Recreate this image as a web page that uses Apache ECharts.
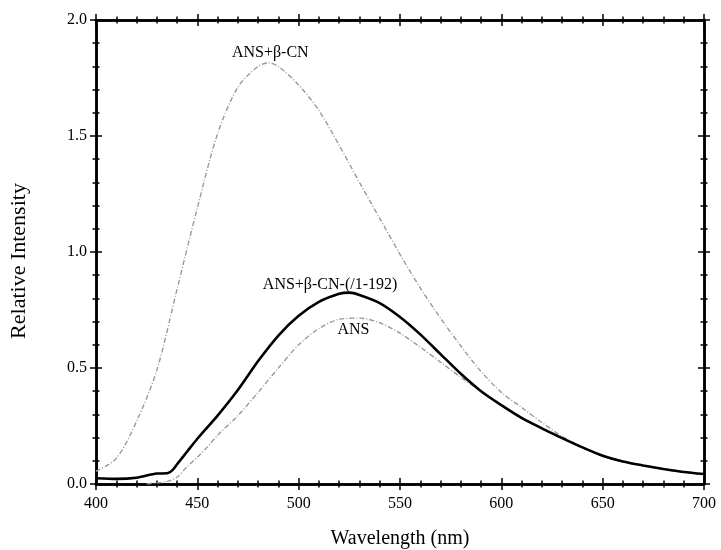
<!DOCTYPE html>
<html>
<head>
<meta charset="utf-8">
<script src="https://cdn.jsdelivr.net/npm/echarts@6/dist/echarts.min.js"></script>
<style>html,body{margin:0;padding:0;background:#fff}#c{width:721px;height:550px}</style>
</head>
<body>
<div id="c"></div>
<script>
// ---- data ----
const wlComplex = [400,410,420,430,435,438,440,445,450,460,470,480,490,500,510,520,525,530,540,550,560,570,580,590,600,610,620,630,640,650,660,670,680,690,700];
const relComplex = [0.025,0.022,0.027,0.045,0.046,0.062,0.085,0.14,0.195,0.295,0.405,0.53,0.64,0.725,0.785,0.82,0.825,0.815,0.78,0.72,0.645,0.56,0.475,0.40,0.34,0.285,0.24,0.198,0.158,0.122,0.097,0.08,0.065,0.052,0.043];

const wlBetaCN = [400,410,420,430,440,450,460,470,480,485,490,500,510,520,530,540,550,560,570,580,590,600,610,620,630,640,650,660,670,680,690,700];
const relBetaCN = [0.055,0.11,0.27,0.49,0.84,1.19,1.51,1.71,1.80,1.815,1.80,1.72,1.61,1.46,1.30,1.145,0.99,0.845,0.715,0.595,0.485,0.395,0.33,0.265,0.205,0.16,0.124,0.098,0.08,0.065,0.052,0.043];

const wlANS = [425,430,435,440,445,450,455,460,470,480,490,500,510,520,530,540,550,560,570,580,590,600,610,620,630,640,650,660,670,680,690,700];
const relANS = [0.0,0.005,0.01,0.03,0.075,0.115,0.16,0.21,0.295,0.395,0.50,0.60,0.67,0.71,0.715,0.695,0.65,0.59,0.525,0.46,0.40,0.338,0.283,0.238,0.196,0.156,0.12,0.095,0.078,0.063,0.05,0.041];

const labelText = ['ANS+β-CN','ANS+β-CN-(/1-192)','ANS'];
const labelX = [486,515.5,527];
const labelY = [1.86,0.858,0.664];

const xTicks = {min:400, max:700, interval:50};
const yTicks = {min:0, max:2, interval:0.5};
// ---------------

const FONT = 'Liberation Serif';
function zip(a,b){return a.map((v,i)=>[v,b[i]]);}

function mkX(pos, inside, labels){
  return {
    type:'value', position:pos, min:xTicks.min, max:xTicks.max, interval:xTicks.interval,
    axisLine:{show:true,onZero:false,lineStyle:{color:'#000',width:2.5}},
    axisTick:{show:true,inside:inside,length:6,lineStyle:{color:'#000',width:1.5}},
    minorTick:{show:true,splitNumber:5,length:3.5,lineStyle:{color:'#000',width:1.5}},
    splitLine:{show:false}, minorSplitLine:{show:false},
    axisLabel:{show:labels,color:'#000',fontFamily:FONT,fontSize:16,margin:12},
    name: labels ? 'Wavelength (nm)' : '', nameLocation:'middle', nameGap:45,
    nameTextStyle:{color:'#000',fontFamily:FONT,fontSize:20}
  };
}
function mkY(pos, inside, labels){
  return {
    type:'value', position:pos, min:yTicks.min, max:yTicks.max, interval:yTicks.interval,
    axisLine:{show:true,onZero:false,lineStyle:{color:'#000',width:2.5}},
    axisTick:{show:true,inside:inside,length:6,lineStyle:{color:'#000',width:1.5}},
    minorTick:{show:true,splitNumber:5,length:3.5,lineStyle:{color:'#000',width:1.5}},
    splitLine:{show:false}, minorSplitLine:{show:false},
    axisLabel:{show:labels,color:'#000',fontFamily:FONT,fontSize:16,margin:9,formatter:v=>v.toFixed(1)},
    name: labels ? 'Relative Intensity' : '', nameLocation:'middle', nameGap:66,
    nameTextStyle:{color:'#000',fontFamily:FONT,fontSize:22,padding:[0,18,0,0]}
  };
}

const chart = echarts.init(document.getElementById('c'), null, {renderer:'canvas'});
chart.setOption({
  animation:false,
  backgroundColor:'#fff',
  grid:{left:96,right:17,top:20,bottom:66,containLabel:false,outerBoundsMode:'none'},
  xAxis:[mkX('bottom',false,true),mkX('bottom',true,false),mkX('top',false,false),mkX('top',true,false)],
  yAxis:[mkY('left',false,true),mkY('left',true,false),mkY('right',false,false),mkY('right',true,false)],
  series:[
    {type:'line',name:'ANS+β-CN',data:zip(wlBetaCN,relBetaCN),showSymbol:false,smooth:0.3,
     lineStyle:{color:'#9a9a9a',width:1.4,type:[5,2,1,2]},z:2},
    {type:'line',name:'ANS',data:zip(wlANS,relANS),showSymbol:false,smooth:0.3,
     lineStyle:{color:'#9a9a9a',width:1.4,type:[5,2,1,2]},z:2},
    {type:'line',name:'ANS+β-CN-(/1-192)',data:zip(wlComplex,relComplex),showSymbol:false,smooth:0.25,
     lineStyle:{color:'#000',width:2.6},z:3},
    {type:'scatter',data:labelX.map((x,i)=>[x,labelY[i],labelText[i]]),symbolSize:0,silent:true,
     itemStyle:{opacity:1},
     label:{show:true,position:'inside',formatter:p=>p.data[2],color:'#000',fontFamily:FONT,fontSize:16},z:5}
  ]
});
</script>
</body>
</html>
